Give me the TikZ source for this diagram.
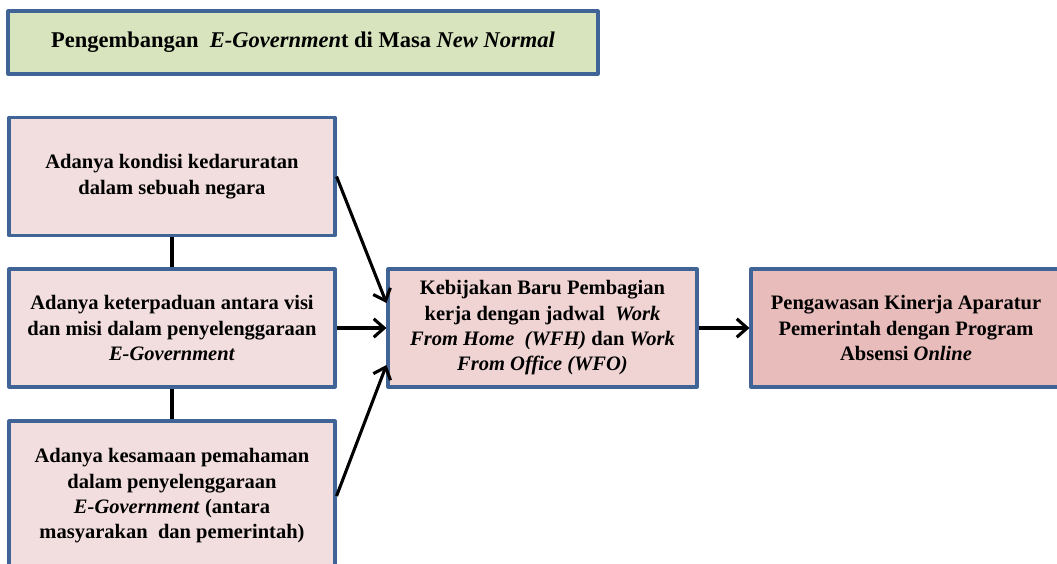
\documentclass[tikz,border=0pt]{standalone}
\usepackage{fontspec}
\setmainfont{Liberation Serif}
\usetikzlibrary{arrows.meta}
\definecolor{boxline}{RGB}{65,100,150}
\definecolor{titlefill}{RGB}{215,228,189}
\definecolor{lightpink}{RGB}{242,222,222}
\definecolor{midpink}{RGB}{240,212,212}
\definecolor{darkpink}{RGB}{231,188,187}
\begin{document}
\begin{tikzpicture}[line join=round, >={Straight Barb[length=2.6mm,width=4.6mm]},
	font=\fontsize{14.6}{18}\selectfont\bfseries,
	box/.style={draw=boxline, line width=2.2pt, align=center, minimum width=8.15cm, minimum height=2.95cm, inner sep=2pt},
	link/.style={line width=2.2pt}]
	\clip (0,0) rectangle (26.425,14.075);
	
	\node[box, fill=titlefill, minimum width=14.75cm, minimum height=1.575cm, font=\fontsize{16}{19}\selectfont\bfseries] (judul) at (7.575,13.0125)
	{Pengembangan~ \textit{E-Governmen}t di Masa \textit{New Normal}};
	
	\node[box, fill=lightpink] (darurat) at (4.3,9.6625)
	{Adanya kondisi kedaruratan\\dalam sebuah negara};
	\node[box, fill=lightpink] (padu) at (4.3,5.875)
	{Adanya keterpaduan antara visi\\dan misi dalam penyelenggaraan\\\textit{E-Government}};
	\node[box, fill=lightpink, minimum height=3.75cm] (paham) at (4.3,1.675)
	{Adanya kesamaan pemahaman\\dalam penyelenggaraan\\\textit{E-Government} (antara\\masyarakan~ dan pemerintah)};
	
	\node[box, fill=midpink, minimum width=7.725cm] (bijak) at (13.5625,5.875)
	{Kebijakan Baru Pembagian\\kerja dengan jadwal~ \textit{Work}\\\textit{From Home~ (WFH)} dan \textit{Work}\\\textit{From Office (WFO)}};
	\node[box, fill=darkpink, minimum width=7.75cm] (awas) at (22.65,5.875)
	{Pengawasan Kinerja Aparatur\\Pemerintah dengan Program\\Absensi \textit{Online}};
	
	\draw[link] (darurat) -- (padu) (padu) -- (paham);
	\draw[link, ->] (darurat.east) -- ([yshift=0.625cm]bijak.west);
	\draw[link, ->] (padu.east) -- (bijak.west);
	\draw[link, ->] (paham.east) -- ([yshift=-0.925cm]bijak.west);
	\draw[link, ->] (bijak) -- (awas);
\end{tikzpicture}
\end{document}
